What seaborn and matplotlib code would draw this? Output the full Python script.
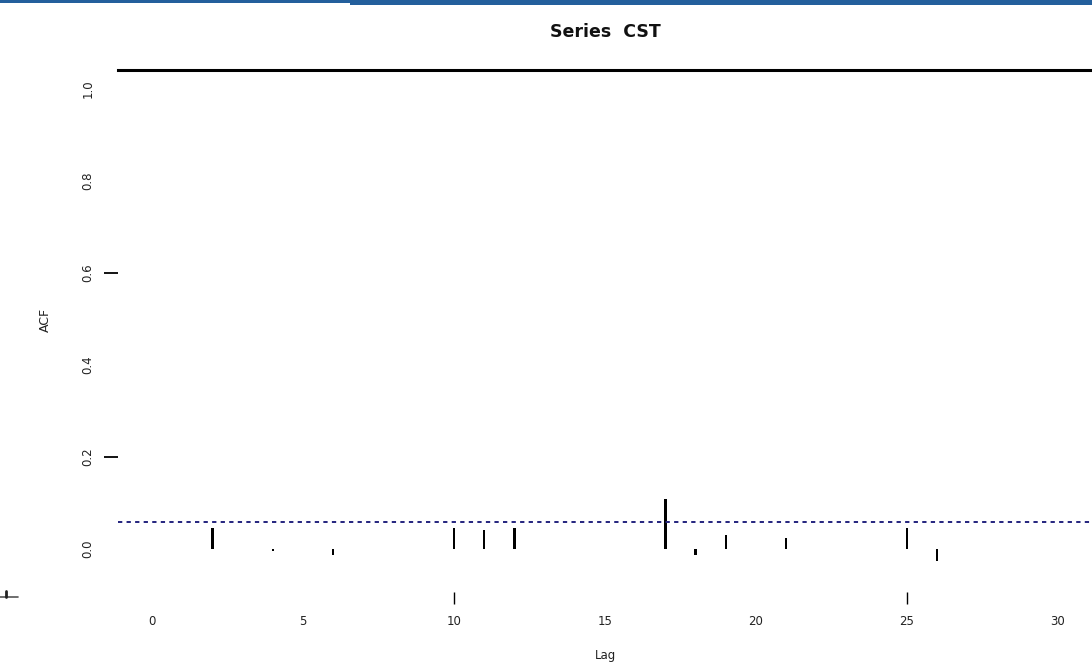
import matplotlib
matplotlib.use("Agg")
import matplotlib.pyplot as plt
from matplotlib.patches import Rectangle
from matplotlib.lines import Line2D
import numpy as np
import pandas as pd
import seaborn as sns

# Autocorrelation estimates by lag
lags = list(range(1, 32))
acf_values = [0.0, 0.045, 0.0, -0.005, 0.0, -0.012, 0.0, 0.0, 0.0, 0.045,
              0.041, 0.045, 0.0, 0.0, 0.0, 0.0, 0.109, -0.013, 0.030, 0.0,
              0.024, 0.0, 0.0, 0.0, 0.046, -0.025, 0.0, 0.0, 0.0, 0.0, 0.0]
conf_limit = 0.059
x_ticks = [0, 5, 10, 15, 20, 25, 30]
y_ticks = [0.0, 0.2, 0.4, 0.6, 0.8, 1.0]
title = "Series  CST"

sns.set_theme(style="white")
plt.rcParams["font.family"] = ["DejaVu Sans"]

W, H = 1092, 667
fig = plt.figure(figsize=(W / 100, H / 100), dpi=100)
fig.patch.set_facecolor("white")

left, right, top, bottom = 118, 1092, 70, 570
ax = fig.add_axes([left / W, 1 - bottom / H, (right - left) / W, (bottom - top) / H])
ax.set_facecolor("white")

df = pd.DataFrame({"lag": lags, "acf": acf_values})
sns.barplot(data=df, x="lag", y="acf", native_scale=True, width=0.08,
            color="black", linewidth=0, errorbar=None, ax=ax)

# confidence bounds
for lim in (conf_limit, -conf_limit):
    ax.axhline(lim, color="#24247e", lw=1.4, ls=(0, (2.2, 2.2)), zorder=1)

ax.set_xlim(-1.126, 31.13)
ax.set_ylim(-(bottom - 549) / 460, (549 - top) / 460)

ax.set_xticks(x_ticks)
ax.set_xticklabels([str(t) for t in x_ticks])
ax.set_yticks(y_ticks)
ax.set_yticklabels([f"{t:.1f}" for t in y_ticks], rotation=90, va="center")

for side in ("left", "right", "bottom"):
    ax.spines[side].set_visible(False)
ax.spines["top"].set_visible(True)
ax.spines["top"].set_color("black")
ax.spines["top"].set_linewidth(2.2)
ax.spines["bottom"].set_position(("outward", 16))

ax.tick_params(axis="x", bottom=True, length=8.6, width=1.0, color="black",
               labelsize=8.5, pad=8, labelcolor="#222222")
ax.tick_params(axis="y", left=True, length=10, width=1.3, color="black",
               labelsize=8.5, pad=7, labelcolor="#222222")

for t, tick in zip(x_ticks, ax.xaxis.get_major_ticks()):
    tick.tick1line.set_visible(t in (10, 25))
for t, tick in zip(y_ticks, ax.yaxis.get_major_ticks()):
    tick.tick1line.set_visible(t in (0.2, 0.6))

ax.set_xlabel("Lag", fontsize=8.5, color="#222222")
ax.set_ylabel("ACF", fontsize=9, color="#222222")
ax.xaxis.set_label_coords(0.5, -(649 - bottom) / (bottom - top))
ax.yaxis.set_label_coords(-(left - 52) / (right - left), 0.5)

fig.text(605 / W, 1 - 32 / H, title, ha="center", va="center",
         fontsize=12.5, fontweight="semibold", color="#111111")

# header band
fig.add_artist(Rectangle((0, 1 - 3 / H), 350 / W, 3 / H, transform=fig.transFigure,
                         color="#235f9c", lw=0))
fig.add_artist(Rectangle((350 / W, 1 - 5 / H), 1 - 350 / W, 5 / H,
                         transform=fig.transFigure, color="#235f9c", lw=0))

# small corner mark
fig.add_artist(Line2D([0, 18 / W], [1 - 597 / H] * 2, transform=fig.transFigure,
                      color="#555555", lw=1.2))
fig.add_artist(Line2D([6 / W, 6 / W], [1 - 597 / H, 1 - 591 / H],
                      transform=fig.transFigure, color="#222222", lw=2))

fig.savefig("out.png", dpi=100, facecolor="white")
